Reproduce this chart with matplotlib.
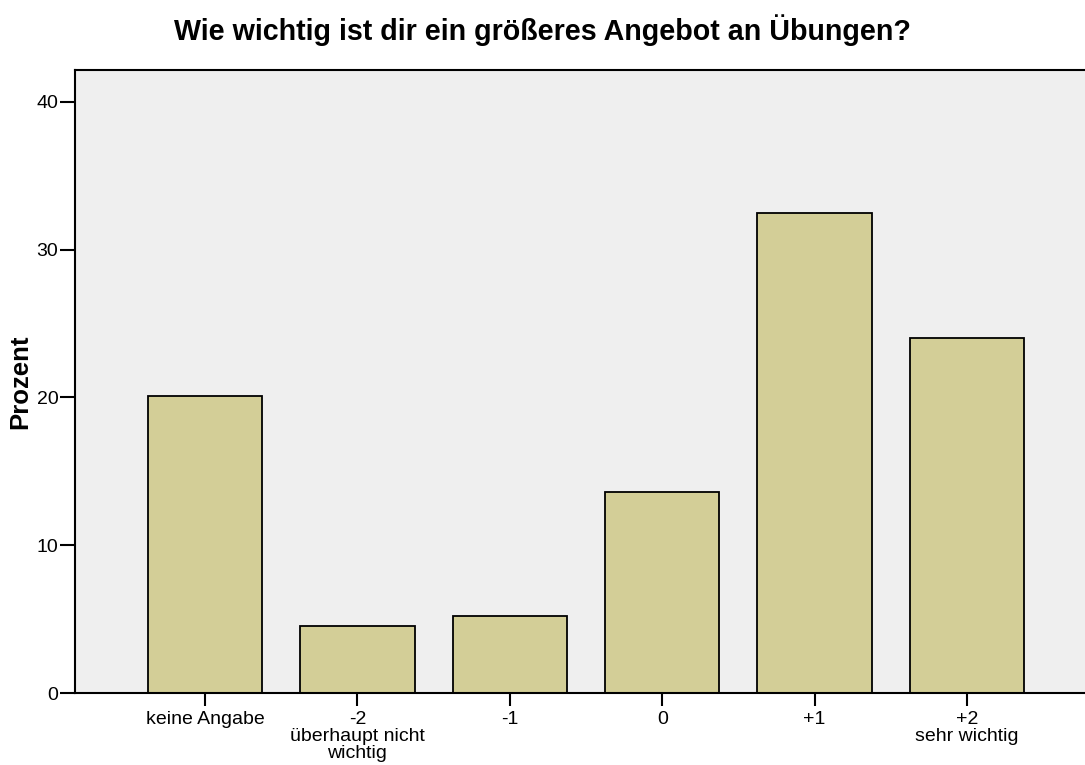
import matplotlib
matplotlib.use("Agg")
import matplotlib.pyplot as plt

plt.rcParams['font.family'] = ['Liberation Sans', 'DejaVu Sans']

# Daten
kategorien = ["keine Angabe", "-2\nüberhaupt nicht\nwichtig", "-1", "0", "+1", "+2\nsehr wichtig"]
prozent = [20.1, 4.5, 5.2, 13.6, 32.5, 24.0]
y_ticks = [0, 10, 20, 30, 40]

fig = plt.figure(figsize=(10.85, 7.65), dpi=100)
ax = fig.add_axes([75 / 1085, 72 / 765, 1022 / 1085, 623 / 765])
ax.set_facecolor('#efefef')

x = list(range(len(kategorien)))
ax.bar(x, prozent, width=0.75, color='#d3ce97', edgecolor='black', linewidth=1.3, zorder=2)

ax.set_xlim(-0.853, len(kategorien) - 1 + 0.853)
ax.set_ylim(0, 42.15)
ax.set_yticks(y_ticks)
ax.set_xticks(x)
ax.set_xticklabels(kategorien, fontsize=14, linespacing=1.0)
ax.tick_params(axis='y', direction='out', length=11, width=1.5, labelsize=14, pad=1)
ax.tick_params(axis='x', direction='out', length=9, width=1.5, pad=4)

for s in ['left', 'bottom', 'top']:
    ax.spines[s].set_linewidth(1.5)
ax.spines['right'].set_visible(False)

ax.set_ylabel("Prozent", fontsize=18.5, fontweight='bold', labelpad=3)
fig.suptitle("Wie wichtig ist dir ein größeres Angebot an Übungen?", fontsize=20.6,
             fontweight='bold', x=0.5, y=0.982)

fig.savefig("out.png", dpi=100)
